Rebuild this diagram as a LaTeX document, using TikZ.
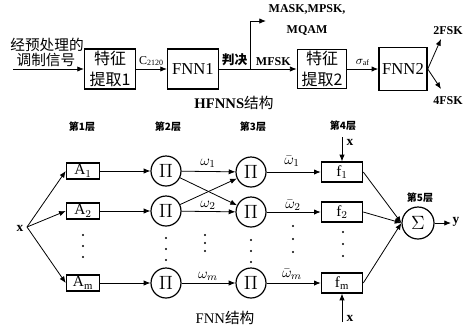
\documentclass[tikz,border=0pt]{standalone}
\usepackage{fontspec}
\setmainfont{Liberation Serif}
\newfontfamily\cjk{Noto Sans CJK SC}
\usetikzlibrary{arrows.meta}
\begin{document}
\begin{tikzpicture}[x=0.75pt,y=-0.75pt,
  >={Latex[length=5pt,width=4pt]}, line width=0.6pt,
  blk/.style={draw, line width=1.1pt, inner sep=1pt, align=center, font=\fontsize{12.5}{15}\selectfont},
  cjkblk/.style={blk, font=\fontsize{12}{16}\selectfont\cjk},
  abox/.style={draw, line width=0.9pt, minimum width=25pt, minimum height=12pt, inner sep=0pt, font=\fontsize{11.5}{12}\selectfont},
  fbox/.style={draw, line width=0.9pt, minimum width=31pt, minimum height=15pt, inner sep=0pt, font=\fontsize{11.5}{12}\selectfont},
  pin/.style={draw, circle, line width=0.9pt, minimum size=22.5pt, inner sep=0pt, font=\fontsize{14}{14}\selectfont},
  lbl/.style={font=\fontsize{9}{10}\selectfont\bfseries, inner sep=1pt},
  layer/.style={font=\fontsize{7.5}{8}\selectfont\cjk\bfseries, inner sep=0pt},
  wl/.style={font=\fontsize{11}{11}\selectfont, inner sep=0pt},
  title/.style={font=\fontsize{11}{12}\selectfont, inner sep=0pt},
  dot/.style={fill, circle, inner sep=0pt, minimum size=1.6pt}]
\useasboundingbox (0,0) rectangle (467,330);

% ---------- top: HFNNS ----------
\node[font=\fontsize{11}{12}\selectfont\cjk, inner sep=0pt] (t1) at (47,45) {经预处理的};
\node[font=\fontsize{11}{12}\selectfont\cjk, inner sep=0pt] (t2) at (46,60) {调制信号};
\coordinate (in) at (13,69);
\node[cjkblk, minimum width=38pt, minimum height=30pt] (fe1) at (110,69) {特征\\提取1};
\node[blk, minimum width=38pt, minimum height=30pt] (fnn1) at (193,69) {FNN1};
\node[cjkblk, minimum width=37pt, minimum height=29pt] (fe2) at (322,69) {特征\\提取2};
\node[blk, minimum width=36pt, minimum height=32pt] (fnn2) at (403,69) {FNN2};
\draw[->] (in) -- (fe1.west);
\draw[->] (fe1.east) -- node[above, lbl, font=\fontsize{9}{10}\selectfont, yshift=1pt] {C$_{\mathrm{2120}}$} (fnn1.west);
\coordinate (br) at (250,69);
\coordinate (up) at (250,21);
\coordinate (upend) at (266,21);
\draw (fnn1.east) -- node[above, font=\fontsize{9.5}{10}\selectfont\cjk\bfseries, inner sep=1pt, yshift=1pt] {判决} (br);
\draw[->] (br) -- node[above, lbl, yshift=1pt] {MFSK} (fe2.west);
\draw[->] (br) -- (up) -- (upend);
\node[lbl, align=center, anchor=west, font=\fontsize{9}{16}\selectfont\bfseries] (mask) at (267,20) {MASK,MPSK,\\MQAM};
\draw[->] (fe2.east) -- node[above, lbl, yshift=1pt] {$\sigma_{\mathrm{af}}$} (fnn2.west);
\node[lbl] (f2) at (448,31) {2FSK};
\node[lbl] (f4) at (448,101) {4FSK};
\coordinate (u2) at (441,39);
\coordinate (u4) at (441,89);
\draw[->] (fnn2.east) -- (u2);
\draw[->] (fnn2.east) -- (u4);
\node[title, font=\fontsize{11}{12}\selectfont] (ht) at (234,103) {\textbf{HFNNS}{\cjk 结构}};

% ---------- bottom: FNN ----------
\node[layer] (l1) at (82,127) {第1层};
\node[layer] (l2) at (168,127) {第2层};
\node[layer] (l3) at (253,127) {第3层};
\node[layer] (l4) at (343,126) {第4层};
\node[layer] (l5) at (420,198) {第5层};

\node[lbl, font=\fontsize{10}{10}\selectfont\bfseries] (xl) at (20,228) {x};
\coordinate (x0) at (27,227);

\node[abox] (a1) at (83,171) {A$_1$};
\node[abox] (a2) at (83,211) {A$_2$};
\node[abox] (am) at (83,283) {A$_{\mathrm{m}}$};

\node[pin] (p21) at (166,171) {$\Pi$};
\node[pin] (p22) at (166,211) {$\Pi$};
\node[pin] (p2m) at (166,283) {$\Pi$};
\node[pin] (p31) at (251,172) {$\Pi$};
\node[pin] (p32) at (251,212) {$\Pi$};
\node[pin] (p3m) at (251,283) {$\Pi$};

\node[fbox] (f1) at (342,172) {f$_1$};
\node[fbox] (ff2) at (342,212) {f$_2$};
\node[fbox] (fm) at (342,283) {f$_{\mathrm{m}}$};

\node[pin, minimum size=24pt, font=\fontsize{15}{15}\selectfont] (sig) at (418,223) {$\Sigma$};
\coordinate (yend) at (451,223);
\node[lbl, font=\fontsize{10}{10}\selectfont\bfseries, anchor=west] (yl) at (451,222) {y};

\draw[->] (x0) -- (a1.west);
\draw[->] (x0) -- (a2.west);
\draw[->] (x0) -- (am.west);

\draw[->] (a1) -- (p21);
\draw[->] (a2) -- (p22);
\draw[->] (am) -- (p2m);

\draw[->] (p21) -- (p31);
\draw[->] (p22) -- (p32);
\draw[->] (p2m) -- (p3m);
\draw[->] (p21) -- (p32);
\draw[->] (p22) -- (p31);

\node[wl] (w1) at (208,163) {$\omega_1$};
\node[wl] (w2) at (208,205) {$\omega_2$};
\node[wl] (wm) at (208,276) {$\omega_m$};

\draw[->] (p31) -- (f1);
\draw[->] (p32) -- (ff2);
\draw[->] (p3m) -- (fm);
\node[wl] (v1) at (292,161) {$\bar{\omega}_1$};
\node[wl] (v2) at (293,205) {$\bar{\omega}_2$};
\node[wl] (vm) at (292,274) {$\bar{\omega}_m$};

\coordinate (xt) at (342,137);
\coordinate (xb) at (342,322);
\draw[->] (xt) -- (f1.north);
\draw[->] (xb) -- (fm.south);
\node[lbl, font=\fontsize{10}{10}\selectfont\bfseries] (xtl) at (350,142) {x};
\node[lbl, font=\fontsize{10}{10}\selectfont\bfseries] (xbl) at (350,318) {x};

\draw[->] (f1.east) -- (sig.west);
\draw[->] (ff2.east) -- (sig.west);
\draw[->] (fm.east) -- (sig.west);
\draw[->] (sig.east) -- (yend);

% dots
\foreach \cx/\ys in {83/{235,246,257},166/{238,249,260},205/{235,243,251},251/{240,251,262},293/{226,239,252},343/{232,244,256}}{
  \foreach \cy in \ys { \node[dot] at (\cx,\cy) {}; }
}

\node[title] (ft) at (225,318) {FNN{\cjk 结构}};
\end{tikzpicture}
\end{document}
